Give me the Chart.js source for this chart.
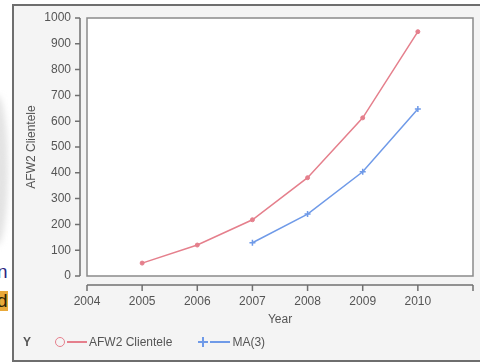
<!DOCTYPE html>
<html lang="en">
<head>
    <meta charset="UTF-8">
    <title>AFW2 Clientele</title>
    <script src="https://cdn.jsdelivr.net/npm/chart.js"></script>
    <style>
        body{margin:0;padding:0;background:#fff;font-family:'Liberation Sans',Arial,sans-serif;overflow:hidden}
        .wrap{position:relative;width:480px;height:364px;overflow:hidden;background:#fff}
        .frame{position:absolute;left:12px;top:4px;width:520px;height:354px;border:2px solid #6e6e6e;border-right:none;background:#f4f4f4}
        .shade{position:absolute;left:-14px;top:95px;width:22px;height:150px;border-radius:50%;background:#e3e3e3;filter:blur(3px)}
        .cut{position:absolute;left:-3px;font-size:19px;line-height:20px}
        canvas{position:absolute;left:0;top:0}
        .legend{position:absolute;left:23px;top:335px;font-size:12px;color:#555;display:flex;align-items:center;white-space:nowrap}
        .legend .ylab{font-weight:bold;margin-right:23px}
        .mk{display:inline-block;position:relative;width:12px;height:12px}
        .mk.circle{width:8px;height:8px;border:1.5px solid #e57f8c;border-radius:50%;margin:0 1px}
        .mk.plus::before,.mk.plus::after{content:'';position:absolute;background:#6f9ae8}
        .mk.plus::before{left:1px;right:1px;top:5px;height:2px}
        .mk.plus::after{top:1px;bottom:1px;left:5px;width:2px}
        .ln{display:inline-block;width:20px;height:1.5px;margin:0 2px 0 1px}
    </style>
</head>
<body>
<div class="wrap">
    <div class="shade"></div>
    <div class="cut" style="top:262px;color:#2b2580">n</div>
    <div class="cut" style="top:291px;color:#2a2206;background:#e9a93a">d</div>
    <div class="frame"></div>
    <canvas id="chart" width="480" height="364"></canvas>
    <div class="legend" id="legend"></div>
</div>
<script>
    // data
    const years = [2005, 2006, 2007, 2008, 2009, 2010];
    const clientele = [50, 120, 218, 381, 613, 947];
    const movingAvg = [null, null, 129, 240, 404, 647];
    const yTicks = [0, 100, 200, 300, 400, 500, 600, 700, 800, 900, 1000];
    const xTicks = [2004, 2005, 2006, 2007, 2008, 2009, 2010, 2011];
    const xLabels = ['2004', '2005', '2006', '2007', '2008', '2009', '2010', ''];

    const RED = '#e57f8c', BLUE = '#6f9ae8', AXIS = '#707070', TXT = '#555';

    const toPoints = vals => years.map((yr, i) => ({x: yr, y: vals[i]}));

    // plot box and offset axes (SAS style)
    const axesPlugin = {
        id: 'offsetAxes',
        beforeDatasetsDraw(chart) {
            const {ctx, chartArea: a} = chart;
            ctx.save();
            ctx.fillStyle = '#fff';
            ctx.fillRect(a.left, a.top, a.width, a.height);
            ctx.strokeStyle = '#8a8a8a';
            ctx.lineWidth = 1.5;
            ctx.strokeRect(a.left, a.top, a.width, a.height);
            ctx.restore();
        },
        afterDraw(chart) {
            const {ctx, chartArea: a, scales: {x, y}} = chart;
            ctx.save();
            ctx.strokeStyle = AXIS;
            ctx.lineWidth = 1.5;
            const ax = a.left - 7;
            ctx.beginPath();
            ctx.moveTo(ax, y.getPixelForValue(yTicks[0]));
            ctx.lineTo(ax, y.getPixelForValue(yTicks[yTicks.length - 1]));
            yTicks.forEach(v => {
                const py = y.getPixelForValue(v);
                ctx.moveTo(ax, py);
                ctx.lineTo(ax - 5, py);
            });
            const ay = a.bottom + 9;
            ctx.moveTo(x.getPixelForValue(xTicks[0]), ay);
            ctx.lineTo(x.getPixelForValue(xTicks[xTicks.length - 1]), ay);
            xTicks.forEach(v => {
                const px = x.getPixelForValue(v);
                ctx.moveTo(px, ay);
                ctx.lineTo(px, ay + 6);
            });
            ctx.stroke();
            ctx.restore();
        }
    };

    new Chart(document.getElementById('chart'), {
        type: 'line',
        data: {
            datasets: [
                {label: 'AFW2 Clientele', data: toPoints(clientele), borderColor: RED, backgroundColor: RED,
                    borderWidth: 1.5, pointStyle: 'circle', pointRadius: 2, pointBorderWidth: 1, tension: 0},
                {label: 'MA(3)', data: toPoints(movingAvg), borderColor: BLUE, backgroundColor: BLUE,
                    borderWidth: 1.5, pointStyle: 'cross', pointRadius: 3, pointBorderWidth: 1.5, tension: 0}
            ]
        },
        options: {
            responsive: false,
            animation: false,
            layout: {padding: {left: 20, top: 18, right: 7, bottom: 37}},
            plugins: {legend: {display: false}, tooltip: {enabled: false}},
            scales: {
                x: {
                    type: 'linear', min: xTicks[0], max: xTicks[xTicks.length - 1],
                    afterBuildTicks: s => { s.ticks = xTicks.map(v => ({value: v})); },
                    ticks: {callback: v => xLabels[xTicks.indexOf(v)], font: {size: 12, family: 'Liberation Sans'},
                        color: TXT, padding: 18, maxRotation: 0, autoSkip: false},
                    grid: {display: false, drawTicks: false},
                    border: {display: false},
                    title: {display: true, text: 'Year', color: TXT, font: {size: 12, family: 'Liberation Sans'},
                        padding: {top: 0, bottom: 0}},
                    afterFit: s => { s.height = 51; s.paddingLeft = 0; s.paddingRight = 0; }
                },
                y: {
                    min: yTicks[0], max: yTicks[yTicks.length - 1],
                    afterBuildTicks: s => { s.ticks = yTicks.map(v => ({value: v})); },
                    ticks: {callback: v => String(v), font: {size: 12, family: 'Liberation Sans'}, color: TXT,
                        padding: 16, autoSkip: false},
                    grid: {display: false, drawTicks: false},
                    border: {display: false},
                    title: {display: true, text: 'AFW2 Clientele', color: TXT, font: {size: 12, family: 'Liberation Sans'},
                        padding: {top: 4, bottom: 0}},
                    afterFit: s => { s.width = 67; s.paddingTop = 0; s.paddingBottom = 0; }
                }
            }
        },
        plugins: [axesPlugin]
    });

    // legend row
    document.getElementById('legend').innerHTML =
        '<span class="ylab">Y</span>' +
        '<span class="mk circle"></span><span class="ln" style="background:' + RED + '"></span><span>AFW2 Clientele</span>' +
        '<span class="mk plus" style="margin-left:25px"></span><span class="ln" style="background:' + BLUE + '"></span><span>MA(3)</span>';
</script>
</body>
</html>
